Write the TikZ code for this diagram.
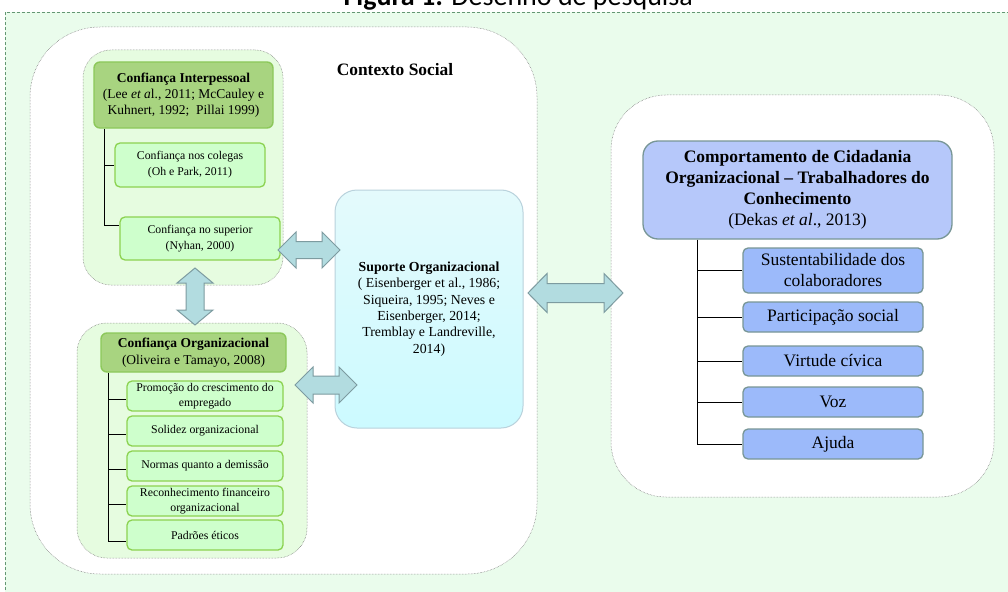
\documentclass[tikz,border=0pt]{standalone}
\usepackage{fontspec}
\setmainfont{Liberation Serif}
\newfontfamily\titlefont{Carlito}
\definecolor{bg}{RGB}{234,252,236}
\definecolor{bgline}{RGB}{100,150,115}
\definecolor{boxline}{RGB}{105,105,105}
\definecolor{innerfill}{RGB}{230,252,224}
\definecolor{hdfill}{RGB}{168,212,128}
\definecolor{hdline}{RGB}{140,200,90}
\definecolor{subfill}{RGB}{206,255,204}
\definecolor{subline}{RGB}{140,210,80}
\definecolor{suptop}{RGB}{228,250,252}
\definecolor{supbot}{RGB}{204,250,255}
\definecolor{supline}{RGB}{185,210,220}
\definecolor{arrfill}{RGB}{178,220,224}
\definecolor{arrline}{RGB}{125,155,160}
\definecolor{rhfill}{RGB}{182,200,250}
\definecolor{rsfill}{RGB}{156,186,250}
\definecolor{rline}{RGB}{120,150,150}
\tikzset{
  container/.style={draw=boxline, densely dotted, line width=0.5pt, inner sep=0pt},
  hdbox/.style={draw=hdline, fill=hdfill, line width=1.4pt, rounded corners=6pt, align=center, inner sep=0pt, font=\fontsize{13.5}{16}\selectfont},
  subbox/.style={draw=subline, fill=subfill, line width=1.3pt, rounded corners=5pt, align=center, inner sep=0pt, minimum width=156pt, minimum height=30pt, font=\fontsize{11.8}{14.7}\selectfont},
  supbox/.style={draw=supline, top color=suptop, bottom color=supbot, line width=1pt, rounded corners=22pt, align=center, inner sep=0pt, font=\fontsize{13.8}{16.4}\selectfont},
  rhbox/.style={draw=rline, fill=rhfill, line width=1.3pt, rounded corners=15pt, align=center, inner sep=0pt, font=\fontsize{17.5}{21}\selectfont},
  rsbox/.style={draw=rline, fill=rsfill, line width=1.3pt, rounded corners=5pt, align=center, inner sep=0pt, minimum width=180pt, font=\fontsize{17.5}{21}\selectfont},
  tree/.style={draw=black, line width=0.8pt},
  arrstyle/.style={draw=arrline, fill=arrfill, line width=1pt, line join=miter},
}
% horizontal double block arrow: x1, x2, y, head half, shaft half, head length
\newcommand\myharrow[6]{%
  \draw[arrstyle] (#1,#3) -- ({#1+#6},{#3-#4}) -- ({#1+#6},{#3-#5}) -- ({#2-#6},{#3-#5}) -- ({#2-#6},{#3-#4}) -- (#2,#3) -- ({#2-#6},{#3+#4}) -- ({#2-#6},{#3+#5}) -- ({#1+#6},{#3+#5}) -- ({#1+#6},{#3+#4}) -- cycle;}
% vertical double block arrow: y1, y2, x, head half, shaft half, head length
\newcommand\myvarrow[6]{%
  \draw[arrstyle] (#3,#1) -- ({#3-#4},{#1+#6}) -- ({#3-#5},{#1+#6}) -- ({#3-#5},{#2-#6}) -- ({#3-#4},{#2-#6}) -- (#3,#2) -- ({#3+#4},{#2-#6}) -- ({#3+#5},{#2-#6}) -- ({#3+#5},{#1+#6}) -- ({#3+#4},{#1+#6}) -- cycle;}
\begin{document}
\begin{tikzpicture}[x=1pt,y=-1pt]
\useasboundingbox (0,0) rectangle (1008,591);
% background panel
\fill[bg] (5,12) rectangle (1012,595);
\draw[bgline, densely dashed, line width=0.5pt] (5,595) -- (5,12) -- (1012,12);
% title (cut by the top edge, as in the reference)
\node[anchor=base east, inner sep=0pt, font=\titlefont\fontsize{28}{32}\selectfont] (title) at (693,5.3) {\textbf{Figura 1:} Desenho de pesquisa};

% big containers
\node[container, fill=white, rounded corners=70pt, minimum width=507pt, minimum height=547pt] (ctx) at (283.5,300.5) {};
\node[container, fill=white, rounded corners=55pt, minimum width=383pt, minimum height=402pt] (rc) at (802.5,296) {};
\node[anchor=base, inner sep=0pt, font=\fontsize{17.4}{20}\selectfont\bfseries] (ctxlabel) at (395,75.5) {Contexto Social};

% left inner containers
\node[container, fill=innerfill, rounded corners=28pt, minimum width=200pt, minimum height=235pt] (tl) at (183,167.5) {};
\node[container, fill=innerfill, rounded corners=30pt, minimum width=230pt, minimum height=235pt] (bl) at (192,440.5) {};

% Confianca Interpessoal
\node[hdbox, minimum width=179pt, minimum height=66pt] (h1) at (183.5,95) {\textbf{Confiança Interpessoal}\\(Lee \textit{et a}l., 2011; McCauley e\\Kuhnert, 1992;\ \ Pillai 1999)};
\node[subbox, minimum width=150pt, minimum height=44pt, font=\fontsize{11.8}{16}\selectfont] (c1) at (190,165) {Confiança nos colegas\\(Oh e Park, 2011)};
\node[subbox, minimum width=160pt, minimum height=43pt, font=\fontsize{11.8}{16}\selectfont] (c2) at (200,238.5) {Confiança no superior\\(Nyhan, 2000)};
\coordinate (t1) at ([xshift=11pt]h1.south west);
\draw[tree] (t1) |- ([yshift=13pt]c2.west);
\draw[tree] (t1 |- c1.west) -- (c1.west);

% Confianca Organizacional
\node[hdbox, minimum width=185pt, minimum height=39pt, font=\fontsize{13.5}{17}\selectfont] (h2) at (193.5,352.5) {\textbf{Confiança Organizacional}\\(Oliveira e Tamayo, 2008)};
\node[subbox] (d1) at (205,396) {Promoção do crescimento do\\empregado};
\node[subbox] (d2) at (205,431) {Solidez organizacional};
\node[subbox] (d3) at (205,466) {Normas quanto a demissão};
\node[subbox] (d4) at (205,501) {Reconhecimento financeiro\\organizacional};
\node[subbox] (d5) at (205,535) {Padrões éticos};
\coordinate (t2) at ([xshift=8pt]h2.south west);
\draw[tree] (t2) |- ([yshift=-6pt]d5.west);
\foreach \n in {d1,d2,d3,d4}{
  \coordinate (e\n) at ([yshift=-3pt]\n.west);
  \draw[tree] (t2 |- e\n) -- (e\n);
}

% Suporte Organizacional
\node[supbox, minimum width=188pt, minimum height=238pt] (S) at (429,309) {\textbf{Suporte Organizacional}\\( Eisenberger et al., 1986;\\Siqueira, 1995; Neves e\\Eisenberger, 2014;\\Tremblay e Landreville,\\2014)};

% right side
\node[rhbox, minimum width=309pt, minimum height=98pt] (R) at (797.5,190) {\textbf{Comportamento de Cidadania}\\\textbf{Organizacional – Trabalhadores do}\\\textbf{Conhecimento}\\(Dekas \textit{et al}., 2013)};
\node[rsbox, minimum height=45pt] (r1) at (833,270.5) {Sustentabilidade dos\\colaboradores};
\node[rsbox, minimum height=30pt] (r2) at (833,317) {Participação social};
\node[rsbox, minimum height=30pt] (r3) at (833,361) {Virtude cívica};
\node[rsbox, minimum height=30pt] (r4) at (833,402) {Voz};
\node[rsbox, minimum height=30pt] (r5) at (833,444) {Ajuda};
\coordinate (t3) at ([xshift=55pt]R.south west);
\draw[tree] (t3) |- (r5.west);
\foreach \n in {r1,r2,r3,r4}{\draw[tree] (t3 |- \n.west) -- (\n.west);}

% block arrows
\myharrow{278}{340}{250}{18}{8.5}{18}
\myharrow{295}{357}{385}{18}{9}{18}
\myvarrow{268}{325}{195}{18}{9}{15}
\myharrow{528}{623}{293}{19.5}{9.5}{19}
\end{tikzpicture}
\end{document}
